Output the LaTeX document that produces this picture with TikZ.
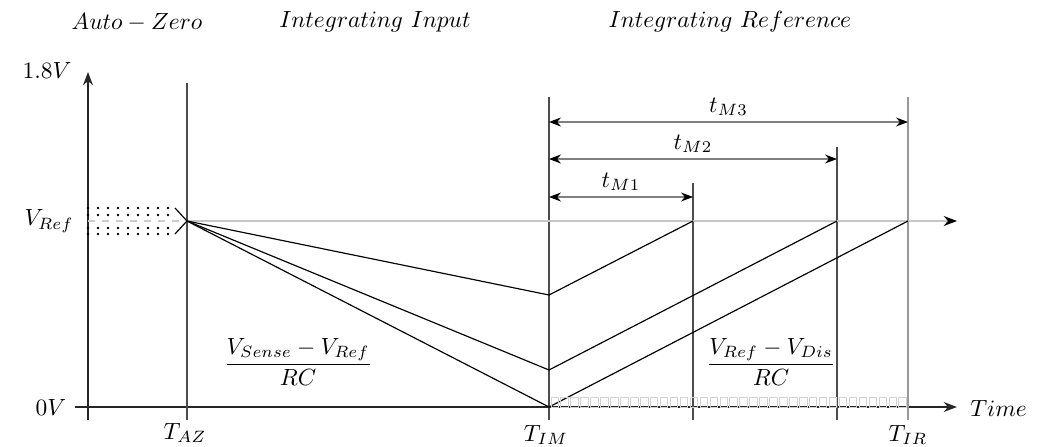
\documentclass[tikz,border=0pt]{standalone}
\usepackage{amsmath}
\usetikzlibrary{arrows.meta}
\tikzset{ramp/.style={line width=.5pt,black},
         axis/.style={-{Stealth[length=2mm]},line width=.6pt,black!85},
         tline/.style={line width=.5pt,black!70},
         dim/.style={{Stealth[length=1.8mm,black]}-{Stealth[length=1.8mm,black]},line width=.5pt,black!50}}

\begin{document}
\begin{tikzpicture}[x=.015cm,y=-.015cm]
  \useasboundingbox (0,0) rectangle (1041,446);
  % phase titles
  \node (paz) at (137,22) {$Auto-Zero$};
  \node (pin) at (375,22) {$Integrating\ Input$};
  \node (pref) at (730,22) {$Integrating\ Reference$};

  % axes
  \coordinate (ys) at (88,420);
  \coordinate (ye) at (88,72);
  \coordinate (xs) at (75,407);
  \coordinate (xe) at (957,407);
  \draw[axis] (ys) -- (ye);
  \draw[axis] (xs) -- (xe);
  \node (vtop) at (47,70) {$1.8V$};
  \node (vzero) at (51,407) {$0V$};
  \node (vref) at (49,221) {$V_{Ref}$};
  \node[right] (time) at (962,408) {$Time$};

  % time markers
  \foreach \nm/\x/\y in {az/187/83,im/549/97,m1/693/183,m2/837/147,ir/908/97}{
    \coordinate (\nm top) at (\x,\y);
    \coordinate (\nm bot) at (\x,420);
  }
  \draw[tline] (aztop) -- (azbot);
  \draw[tline] (imtop) -- (imbot);
  \draw[tline] (m1top) -- (m1bot);
  \draw[tline] (m2top) -- (m2bot);
  \draw[tline,black!40] (irtop) -- (irbot);
  \node (taz) at (185,433) {$T_{AZ}$};
  \node (tim) at (546,435) {$T_{IM}$};
  \node (tir) at (908,435) {$T_{IR}$};

  % auto-zero hold
  \foreach \y in {208,215,228,234}
    \foreach \x in {88,98,...,168}
      \fill[black] (\x,\y) circle[radius=.55pt];
  \coordinate (hs) at (88,221);
  \coordinate (az) at (187,221);
  \draw[gray!40,dashed,line width=.5pt] (hs) -- (az);
  \draw[line width=.5pt] (175,208) -- (az) -- (175,234);

  % reference level
  \coordinate (refend) at (957,221);
  \draw[gray!45,line width=.6pt,-{Stealth[length=2mm,black]}] (az) -- (refend);

  % integrator ramps
  \coordinate (p1) at (549,295);
  \coordinate (p2) at (549,370);
  \coordinate (p3) at (549,407);
  \coordinate (e1) at (693,221);
  \coordinate (e2) at (837,221);
  \coordinate (e3) at (908,221);
  \draw[ramp] (az) -- (p1) -- (e1);
  \draw[ramp] (az) -- (p2) -- (e2);
  \draw[ramp] (az) -- (p3) -- (e3);

  % discharge counter
  \foreach \i in {0,...,35}
    \draw[gray!35,line width=.4pt] ({551+\i*9.94},397) rectangle ++(7.5,10);

  % measured times
  \draw[dim] (549,122) -- node[above=-1pt,text=black] (lm3) {$t_{M3}$} (908,122);
  \draw[dim] (549,159) -- node[above=-1pt,text=black] (lm2) {$t_{M2}$} (837,159);
  \draw[dim] (549,197) -- node[above=-1pt,text=black] (lm1) {$t_{M1}$} (693,197);

  % slopes
  \node (sin) at (298,362) {$\dfrac{V_{Sense}-V_{Ref}}{RC}$};
  \node (sref) at (771,362) {$\dfrac{V_{Ref}-V_{Dis}}{RC}$};
\end{tikzpicture}
\end{document}
